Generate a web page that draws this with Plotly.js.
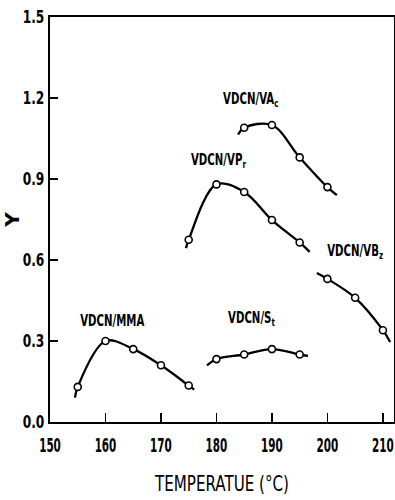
<!DOCTYPE html>
<html>
<head>
<meta charset="utf-8">
<script src="https://cdn.plot.ly/plotly-3.0.1.min.js"></script>
<style>
  html, body { margin: 0; padding: 0; background: #fff; }
  #chart { width: 395px; height: 500px; }
</style>
</head>
<body>
<div id="chart"></div>
<script>
// Copolymer systems: measured Y at each polymerization temperature (°C)
var mmaT = [155, 160, 165, 170, 175];
var mmaY = [0.13, 0.30, 0.27, 0.21, 0.135];
var mmaStart = [154.5, 0.09];
var mmaEnd = [176.0, 0.12];

var stT = [180, 185, 190, 195];
var stY = [0.233, 0.25, 0.27, 0.25];
var stStart = [178.3, 0.21];
var stEnd = [196.5, 0.245];

var vbzT = [200, 205, 210];
var vbzY = [0.53, 0.46, 0.34];
var vbzStart = [198.1, 0.552];
var vbzEnd = [211.3, 0.296];

var vprT = [175, 180, 185, 190, 195];
var vprY = [0.675, 0.88, 0.852, 0.748, 0.665];
var vprStart = [174.5, 0.644];
var vprEnd = [196.8, 0.63];

var vacT = [185, 190, 195, 200];
var vacY = [1.09, 1.10, 0.98, 0.87];
var vacStart = [183.9, 1.065];
var vacEnd = [201.7, 0.84];

// Curve labels
var labelText = ['VDCN/MMA', 'VDCN/S<sub>t</sub>', 'VDCN/VB<sub>z</sub>', 'VDCN/VP<sub>r</sub>', 'VDCN/VA<sub>c</sub>'];
var labelX = [161.2, 186.3, 204.9, 180.4, 186.2];
var labelY = [0.375, 0.385, 0.63, 0.97, 1.195];

// Axis ticks
var xTicks = [150, 160, 170, 180, 190, 200, 210];
var yTicks = [0.0, 0.3, 0.6, 0.9, 1.2, 1.5];
var yTickText = ['0.0', '0.3', '0.6', '0.9', '1.2', '1.5'];

var FONT = 'DejaVu Sans, sans-serif';

var series = [
  [mmaT, mmaY, mmaStart, mmaEnd],
  [stT, stY, stStart, stEnd],
  [vbzT, vbzY, vbzStart, vbzEnd],
  [vprT, vprY, vprStart, vprEnd],
  [vacT, vacY, vacStart, vacEnd]
];

var traces = [];
series.forEach(function (s) {
  var lx = [s[2][0]].concat(s[0], [s[3][0]]);
  var ly = [s[2][1]].concat(s[1], [s[3][1]]);
  traces.push({
    x: lx, y: ly, mode: 'lines', type: 'scatter',
    line: { color: '#000', width: 2.3, shape: 'spline', smoothing: 1 },
    hoverinfo: 'skip', showlegend: false
  });
});
series.forEach(function (s) {
  traces.push({
    x: s[0], y: s[1], mode: 'markers', type: 'scatter',
    marker: { symbol: 'circle', size: 7, color: '#fff', line: { color: '#000', width: 1.6 } },
    showlegend: false
  });
});

var annotations = labelText.map(function (t, i) {
  return {
    x: labelX[i], y: labelY[i], xref: 'x', yref: 'y',
    text: t, showarrow: false,
    font: { family: FONT, size: 15, color: '#000', weight: 'bold' }
  };
});

var layout = {
  width: 395, height: 500,
  margin: { l: 50, r: 1, t: 17, b: 78 },
  paper_bgcolor: '#fff', plot_bgcolor: '#fff',
  showlegend: false,
  font: { family: FONT, color: '#000' },
  xaxis: {
    range: [150, 212],
    tickvals: xTicks,
    ticks: 'inside', ticklen: 9, tickwidth: 1.5, tickcolor: '#000',
    showline: true, linecolor: '#000', linewidth: 2, mirror: true,
    showgrid: false, zeroline: false,
    ticklabeloverflow: 'allow',
    ticklabelstandoff: 4,
    tickfont: { family: FONT, size: 20, color: '#000', weight: 'bold' },
    title: { text: 'TEMPERATUE (°C)', font: { family: FONT, size: 21, color: '#000' }, standoff: 20 }
  },
  yaxis: {
    range: [0, 1.5],
    tickvals: yTicks, ticktext: yTickText,
    ticks: 'inside', ticklen: 8, tickwidth: 1.5, tickcolor: '#000',
    showline: true, linecolor: '#000', linewidth: 2, mirror: true,
    showgrid: false, zeroline: false,
    tickfont: { family: FONT, size: 18, color: '#000', weight: 'bold' },
    title: { text: 'Y', font: { family: FONT, size: 20, color: '#000', weight: 'bold' }, standoff: 10 }
  },
  annotations: annotations
};

// Narrow the lettering horizontally (tall, condensed type), scaling each
// text about its own anchor point so its placement is unchanged
function squeeze(gd, selector, factor) {
  gd.querySelectorAll(selector).forEach(function (t) {
    var ax = parseFloat(t.getAttribute('x')) || 0;
    var tr = t.getAttribute('transform') || '';
    t.setAttribute('transform',
      tr + ' translate(' + ax + ',0) scale(' + factor + ',1) translate(' + (-ax) + ',0)');
  });
}

Plotly.newPlot('chart', traces, layout, { displayModeBar: false, staticPlot: true })
  .then(function (gd) {
    squeeze(gd, '.xtick text', 0.52);
    squeeze(gd, '.ytick text', 0.68);
    squeeze(gd, '.g-xtitle text', 0.72);
    squeeze(gd, '.annotation-text', 0.68);
  });
</script>
</body>
</html>
